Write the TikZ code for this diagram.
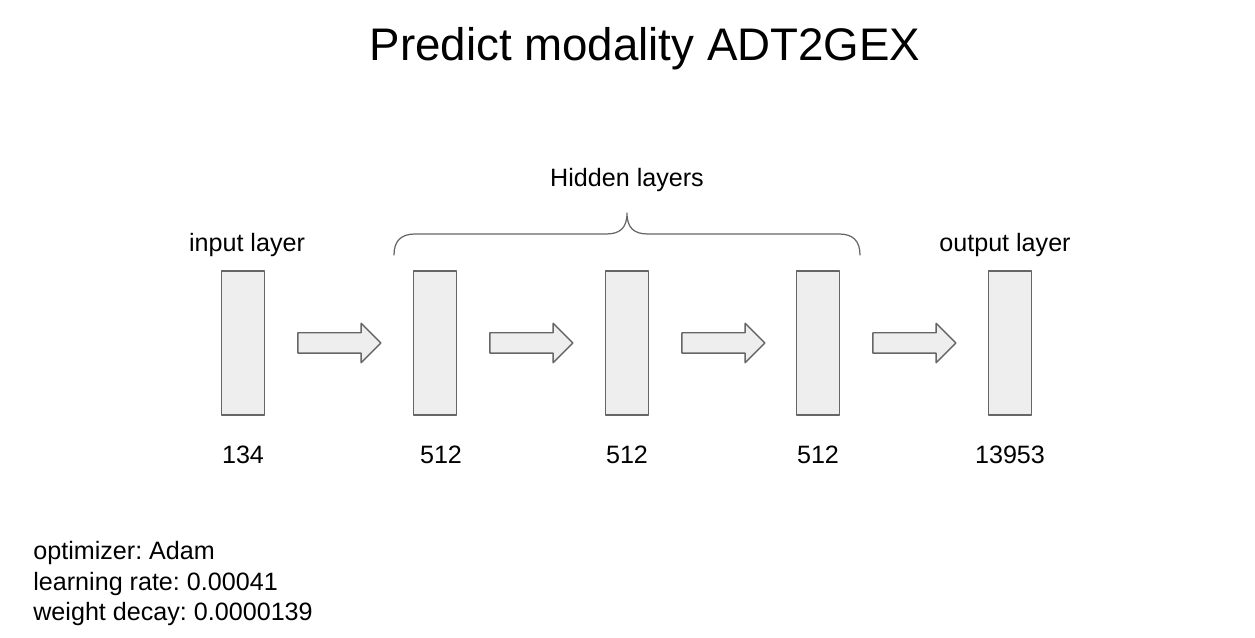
\documentclass[tikz,border=0pt]{standalone}
\usepackage{fontspec}
\setmainfont{Liberation Sans}
\frenchspacing
\usetikzlibrary{shapes.arrows,calc}
\definecolor{layerfill}{HTML}{EEEEEE}
\definecolor{layerdraw}{HTML}{666666}

\begin{document}
\begin{tikzpicture}[x=0.02cm, y=-0.02cm, line join=round, line cap=round,
    layer/.style={draw=layerdraw, fill=layerfill, line width=0.8pt, minimum width=0.86cm, minimum height=2.88cm, inner sep=0pt},
    flow/.style={single arrow, draw=layerdraw, fill=layerfill, line width=0.8pt, minimum height=1.66cm, minimum width=0pt, inner xsep=0pt, inner ysep=0.19cm, single arrow head extend=0.19cm, anchor=tail},
    lbl/.style={font=\fontsize{14.3}{17}\selectfont, inner sep=0pt, anchor=base}]
  \useasboundingbox (0,0) rectangle (1255,638);
  \node[font=\fontsize{26}{30}\selectfont, inner sep=0pt, anchor=base] (title) at (645,61) {Predict modality ADT2GEX};
  % layers and their sizes
  \foreach \x/\nx/\n [count=\i] in {243/243/134, 435/441/512, 627/627/512, 818/818/512, 1010/1010/13953} {
    \node[layer] (l\i) at (\x,343) {};
    \node[lbl] (n\i) at (\nx,464) {\n};
  }
  \foreach \i in {1,...,4}
    \node[flow] (a\i) at ($(l\i.east)+(32,0)$) {};
  \node[lbl] (inlbl) at (247,252) {input layer};
  \node[lbl] (outlbl) at (1005,252) {output layer};
  \node[lbl] (hidlbl) at (627,187) {Hidden layers};
  % brace over the hidden layers
  \draw[layerdraw, line width=0.7pt] (394,255) .. controls (394,241) and (401,234) .. (415,234) -- (606,234)
    .. controls (620,234) and (627,228) .. (627,213) .. controls (627,228) and (634,234) .. (648,234) -- (839,234)
    .. controls (853,234) and (860,241) .. (860,255);
  % training settings
  \foreach \t [count=\k] in {optimizer: Adam, learning rate: 0.00041, weight decay: 0.0000139}
    \node[lbl, anchor=base west] (p\k) at (33,{560+30.5*(\k-1)}) {\t};
\end{tikzpicture}
\end{document}
